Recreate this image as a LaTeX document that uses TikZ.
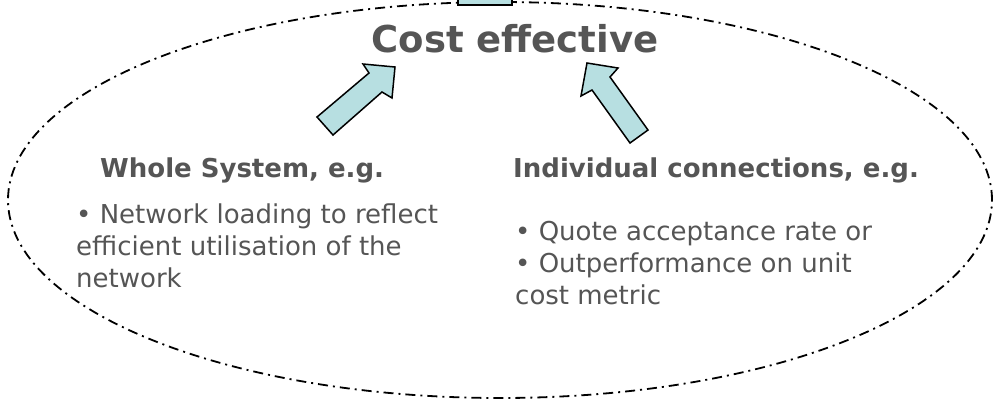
\documentclass[tikz,border=0pt]{standalone}
\usepackage{fontspec}
\setmainfont{DejaVu Sans}
\definecolor{txtgrey}{HTML}{555555}
\definecolor{arrowblue}{HTML}{B7DFE1}

\tikzset{
  blockarrow/.style={draw=black, line width=1.5pt, fill=arrowblue, line join=miter},
  heading/.style={anchor=base west, inner sep=0pt, text=txtgrey, font=\fontsize{26}{31}\selectfont\bfseries},
  bodytext/.style={anchor=north west, inner sep=0pt, align=left, text=txtgrey, font=\fontsize{26}{32}\selectfont}
}

\begin{document}
\begin{tikzpicture}[x=1pt, y=-1pt]
    \useasboundingbox (0,0) rectangle (999,405);
    \clip (0,0) rectangle (999,405);

    % Outline of the area
    \draw[line width=1.8pt, dash pattern=on 10pt off 5pt on 2pt off 5pt] (500,200) ellipse [x radius=492pt, y radius=198pt];

    % Arrow leaving upwards (cut off)
    \draw[blockarrow] (458,-10) rectangle (512,5);

    % Title
    \node[anchor=base, inner sep=0pt, text=txtgrey, font=\fontsize{37}{44}\selectfont\bfseries] (cost) at (515,52) {Cost effective};

    % Arrows into the title
    \draw[blockarrow] (317,117) -- (369,73) -- (363,64) -- (395,67) -- (392,98) -- (382,92) -- (333,135) -- cycle;
    \draw[blockarrow] (587,63) -- (618,68) -- (610,77) -- (648,130) -- (630,143) -- (592,90) -- (581,96) -- cycle;

    % Left column
    \node[heading] (whole) at (100,177) {Whole System, e.g.};
    \node[bodytext] (wholetxt) at (76,203.5) {\textbullet{} Network loading to reflect\\efficient utilisation of the\\network};

    % Right column
    \node[heading] (indiv) at (513,177) {Individual connections, e.g.};
    \node[bodytext] (indivtxt) at (515,220.5) {\textbullet{} Quote acceptance rate or\\\textbullet{} Outperformance on unit\\cost metric};
\end{tikzpicture}
\end{document}
